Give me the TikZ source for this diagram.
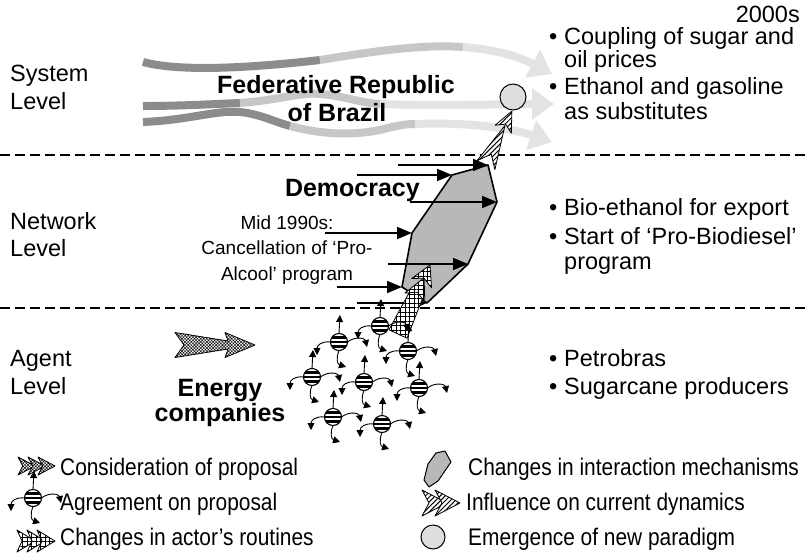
\documentclass[tikz,border=0pt]{standalone}
\usepackage{fontspec}
\setmainfont{Liberation Sans}
\newfontfamily\narrowfont[FakeStretch=0.87]{Liberation Sans}
\usetikzlibrary{arrows.meta,patterns.meta}
\definecolor{banddark}{gray}{0.55}
\definecolor{bandmid}{gray}{0.78}
\definecolor{bandlight}{gray}{0.89}
\definecolor{polygray}{gray}{0.72}
\definecolor{paradigmgray}{gray}{0.87}

% one dart-shaped chevron pointing along +x: tip, length, half width, style
\newcommand\chevdart[4]{%
  \filldraw[#4] (#1,0) -- (#1-#2,#3) -- (#1-0.72*#2,0) -- (#1-#2,-#3) -- cycle;}

\begin{document}
\begin{tikzpicture}[x=1pt,y=-1pt,
  lbl/.style={font=\fontsize{23.5}{26}\selectfont, inner sep=0, anchor=base west},
  boldlbl/.style={font=\fontsize{25}{27}\selectfont\bfseries, inner sep=0, anchor=base},
  smalllbl/.style={font=\fontsize{19}{21}\selectfont, inner sep=0, anchor=base},
  leg/.style={font=\narrowfont\fontsize{24}{26}\selectfont, inner sep=0, anchor=base west},
  band/.style={line width=8pt, line cap=butt},
  bandtip/.style={-{Triangle[length=22pt,width=30pt]}},
  dashline/.style={line width=2.7pt, dash pattern=on 10pt off 5pt},
  netarrow/.style={line width=1.8pt, -{Triangle[length=15pt,width=12pt]}},
  actarrow/.style={line width=0.9pt, -{Triangle[length=7pt,width=7pt]}},
  hatchfill/.style={preaction={fill=white}, pattern={Lines[angle=45,distance=3.5pt,line width=1pt]}, draw, line width=0.8pt, line join=round},
  gridfill/.style={preaction={fill=white}, pattern={Hatch[angle=0,distance=4.5pt,line width=0.7pt]}, draw, line width=0.8pt, line join=round},
  finefill/.style={preaction={fill=white}, pattern={Hatch[angle=45,distance=2.2pt,line width=0.45pt]}, draw, line width=0.8pt, line join=round},
  polyfill/.style={fill=polygray, draw, line width=1.6pt, line join=round},
  actor/.pic={
    \draw[actarrow] (0,-8.5) -- (1,-27);
    \draw[actarrow] (-8.5,0) .. controls (-17,-1) and (-22,3) .. (-22,13);
    \draw[actarrow] (8.5,0) .. controls (16,-6) and (26,-4) .. (28,5);
    \draw[actarrow] (0,8.5) .. controls (-3,16) and (-2,22) .. (7,25);
    \fill[white] (0,0) circle (8.5);
    \begin{scope}
      \clip (0,0) circle (8.5);
      \foreach \s in {-4.5,0,4.5} \fill (-9,\s-1.1) rectangle (9,\s+1.1);
    \end{scope}
    \draw[line width=1.1pt] (0,0) circle (8.5);
  }]
\useasboundingbox (0,0) rectangle (809,555);

% ---------- system level: coupled price trajectories ----------
\draw[band,banddark] (143,62) .. controls (180,72) and (250,68) .. (320,60);
\draw[band,bandmid] (320,60) .. controls (370,52) and (420,44) .. (463,47);
\draw[band,bandlight,bandtip] (463,47) .. controls (500,50) and (522,58) .. (552,74);

\draw[band,banddark] (143,106) .. controls (180,106) and (215,104) .. (240,103);
\draw[band,bandmid] (240,103) .. controls (280,100) and (300,92) .. (320,94)
  .. controls (345,96) and (360,103) .. (380,104);
\draw[band,bandlight,bandtip] (380,104) .. controls (440,106) and (500,104) .. (554,104);

\draw[band,banddark] (143,122) .. controls (190,120) and (215,110) .. (240,112)
  .. controls (260,114) and (275,122) .. (290,126);
\draw[band,bandmid] (290,126) .. controls (320,134) and (350,136) .. (380,130)
  .. controls (395,126) and (405,124) .. (415,124);
\draw[band,bandlight,bandtip] (415,124) .. controls (470,122) and (510,128) .. (552,142);

% new paradigm
\node[draw, circle, fill=paradigmgray, minimum size=26pt, inner sep=0, line width=1pt] (paradigm) at (513,97) {};

% level separators
\coordinate (sepAl) at (0,155);   \coordinate (sepAr) at (809,155);
\coordinate (sepBl) at (0,308);   \coordinate (sepBr) at (809,308);
\draw[dashline] (sepAl) -- (sepAr);
\draw[dashline] (sepBl) -- (sepBr);

% ---------- network level: interaction mechanisms ----------
\coordinate (pt)  at (488,165);
\coordinate (ptl) at (452,175);
\coordinate (pl)  at (412,233);
\coordinate (pbl) at (402,287);
\coordinate (pb)  at (427,303);
\coordinate (pbr) at (468,264);
\coordinate (pr)  at (497,202);
\draw[polyfill] (pt) -- (pr) -- (pbr) -- (pb) -- (pbl) -- (pl) -- (ptl) -- cycle;

\coordinate (a1) at (398,165);
\coordinate (a2) at (357,175);
\coordinate (a3) at (410,202);
\coordinate (a4) at (325,233);
\coordinate (a5) at (388,264);
\coordinate (a6) at (337,287);
\coordinate (a7) at (357,303);
\draw[netarrow] (a1) -- (pt);
\draw[netarrow] (a2) -- (ptl);
\draw[netarrow] (a3) -- (pr);
\draw[netarrow] (a4) -- (pl);
\draw[netarrow] (a5) -- (pbr);
\draw[netarrow] (a6) -- (pbl);
\draw[netarrow] (a7) -- (pb);

% influence on current dynamics (towards the new paradigm)
\begin{scope}[shift={(485,167)}, rotate=64.3]
  \chevdart{46}{44}{10}{hatchfill}
  \chevdart{62}{20}{9}{hatchfill}
\end{scope}

% changes in actor's routines
\begin{scope}[shift={(398,334)}, rotate=65.1]
  \filldraw[gridfill] (0,-10) -- (46,-7) -- (46,7) -- (0,10) -- cycle;
  \chevdart{62}{22}{11}{gridfill}
  \chevdart{76}{20}{11}{gridfill}
\end{scope}

% ---------- agent level: actors agreeing on the proposal ----------
\foreach \ax/\ay in {380/326, 339/342, 408/351, 312/377, 364/382, 419/388, 333/417, 382/424}
  \pic at (\ax,\ay) {actor};

% consideration of proposal by the energy companies
\begin{scope}[shift={(175,345)}]
  \filldraw[finefill] (0,-12.5) -- (53,-4) -- (50,-12.5) -- (80,0) -- (50,12.5) -- (53,4)
    -- (0,12.5) -- (9,0) -- cycle;
\end{scope}

% ---------- texts ----------
\node[lbl, anchor=base east] (year) at (800,22) {2000s};

\node[lbl] (sys1) at (10,81) {System};
\node[lbl] (sys2) at (10,109) {Level};
\node[lbl] (net1) at (10,229) {Network};
\node[lbl] (net2) at (10,256) {Level};
\node[lbl] (agt1) at (10,366) {Agent};
\node[lbl] (agt2) at (10,394) {Level};

\node[boldlbl] (fed1) at (336,93) {Federative Republic};
\node[boldlbl] (fed2) at (337,121) {of Brazil};
\node[boldlbl, anchor=base east] (demo) at (420,196) {Democracy};
\node[boldlbl] (en1) at (220,396) {Energy};
\node[boldlbl] (en2) at (220,421) {companies};

\node[smalllbl] (mid1) at (287,229) {Mid 1990s:};
\node[smalllbl] (mid2) at (287,254) {Cancellation of ‘Pro-};
\node[smalllbl] (mid3) at (287,280) {Alcool’ program};

% bullet lists
\node[lbl] (s1d) at (549,44) {\textbullet};
\node[lbl] (s1a) at (564,44) {Coupling of sugar and};
\node[lbl] (s1b) at (564,67) {oil prices};
\node[lbl] (s2d) at (549,94) {\textbullet};
\node[lbl] (s2a) at (564,94) {Ethanol and gasoline};
\node[lbl] (s2b) at (564,119) {as substitutes};

\node[lbl] (n1d) at (549,215) {\textbullet};
\node[lbl] (n1a) at (564,215) {Bio-ethanol for export};
\node[lbl] (n2d) at (549,244) {\textbullet};
\node[lbl] (n2a) at (564,244) {Start of ‘Pro-Biodiesel’};
\node[lbl] (n2b) at (564,269) {program};

\node[lbl] (g1d) at (549,366) {\textbullet};
\node[lbl] (g1a) at (564,366) {Petrobras};
\node[lbl] (g2d) at (549,394) {\textbullet};
\node[lbl] (g2a) at (564,394) {Sugarcane producers};

% ---------- legend ----------
\begin{scope}[shift={(18,466)}]
  \chevdart{17}{17}{9}{finefill}
  \chevdart{27}{17}{9}{finefill}
  \chevdart{37}{17}{9}{finefill}
\end{scope}
\node[leg] (l1) at (60,475) {Consideration of proposal};

\begin{scope}[scale=0.6]
  \pic at (55,830) {actor};
\end{scope}
\node[leg] (l2) at (60,510) {Agreement on proposal};

\begin{scope}[shift={(17,541)}]
  \chevdart{18}{18}{11}{gridfill}
  \chevdart{28}{18}{11}{gridfill}
  \chevdart{38}{18}{11}{gridfill}
\end{scope}
\node[leg] (l3) at (60,545) {Changes in actor’s routines};

\draw[polyfill, line width=1pt] (445,451) -- (451,462) -- (438,481) -- (429,487) -- (424,480)
  -- (428,464) -- (436,453) -- cycle;
\node[leg] (r1) at (468,475) {Changes in interaction mechanisms};

\begin{scope}[shift={(422,503)}]
  \chevdart{25}{25}{13}{hatchfill}
  \chevdart{38}{25}{13}{hatchfill}
\end{scope}
\node[leg] (r2) at (466,510) {Influence on current dynamics};

\node[draw, circle, fill=paradigmgray, minimum size=24pt, inner sep=0, line width=1pt] (legcirc) at (433,537) {};
\node[leg] (r3) at (468,545) {Emergence of new paradigm};

\end{tikzpicture}
\end{document}
